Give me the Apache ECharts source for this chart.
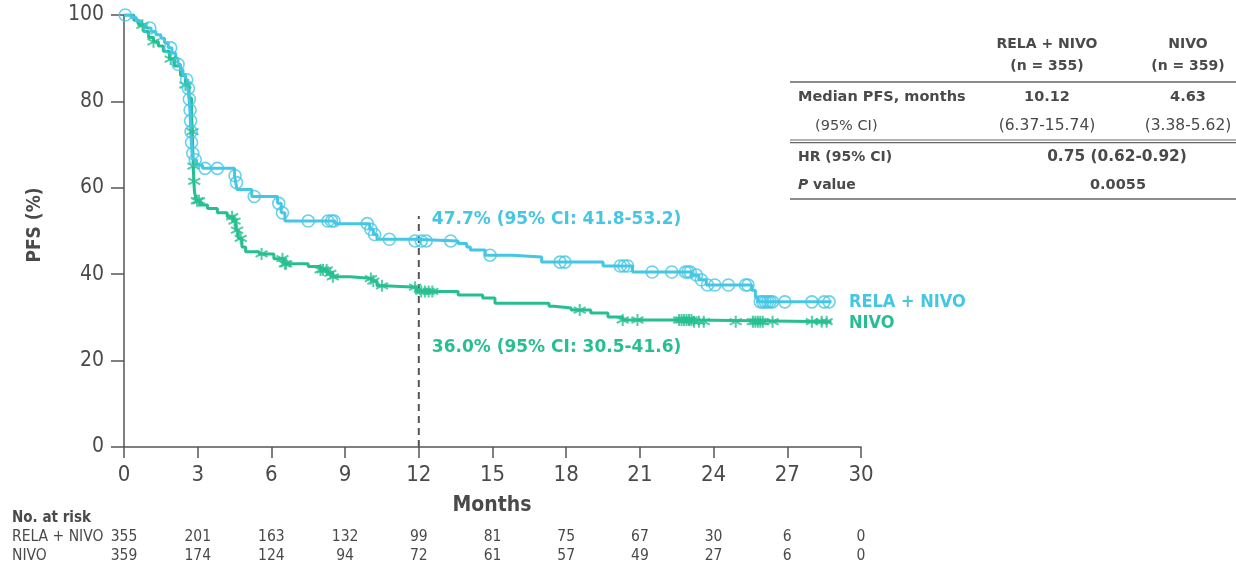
<!DOCTYPE html>
<html>
<head>
<meta charset="utf-8">
<script src="https://cdn.jsdelivr.net/npm/echarts@6/dist/echarts.min.js"></script>
<style>
  html, body { margin: 0; padding: 0; background: #fff; }
  #chart { width: 1236px; height: 566px; }
</style>
</head>
<body>
<div id="chart"></div>
<script>
// Kaplan-Meier PFS estimates (months, %)
const relaTime = [0, 0.3, 0.5, 0.7, 0.9, 1.1, 1.3, 1.5, 1.65, 1.8, 1.95, 2.1, 2.2, 2.3, 2.4, 2.5, 2.6, 2.65, 2.68, 2.7, 2.72, 2.74, 2.77, 2.82, 2.95, 3.2, 4.5, 4.55, 4.6, 5.2, 6.25, 6.4, 6.55, 8.6, 10.0, 10.15, 10.3, 11.8, 13.6, 13.95, 14.1, 14.7, 15.8, 17.0, 19.5, 20.7, 23.1, 23.4, 23.7, 25.55, 25.7, 25.8, 28.8];
const relaPfs  = [100, 99.4, 98.6, 97.8, 97.0, 96.2, 95.4, 94.6, 93.6, 92.4, 91.2, 90.0, 88.6, 87.4, 86.2, 85.0, 83.0, 80.5, 78, 75.5, 73, 70.5, 68, 66.5, 65.2, 64.5, 62.8, 61.2, 59.6, 58.0, 56.4, 54.2, 52.3, 51.7, 50.4, 49.2, 48.1, 47.7, 47.1, 46.3, 45.6, 44.4, 44.0, 42.8, 41.9, 40.5, 39.8, 38.7, 37.5, 36.3, 34.7, 33.6, 33.6];

const nivoTime = [0, 0.4, 0.6, 0.8, 1.0, 1.2, 1.4, 1.6, 1.85, 2.05, 2.3, 2.5, 2.65, 2.75, 2.78, 2.8, 2.82, 2.84, 2.87, 2.95, 3.1, 3.4, 3.8, 4.2, 4.45, 4.55, 4.65, 4.8, 4.95, 5.5, 6.1, 6.5, 7.5, 8.0, 8.3, 8.5, 9.2, 10.1, 10.3, 10.6, 11.9, 13.6, 14.6, 15.1, 17.3, 17.5, 18.2, 19.0, 19.7, 20.3, 23.2, 28.8];
const nivoPfs  = [100, 98.8, 97.6, 96.2, 94.8, 93.8, 92.8, 91.6, 89.8, 88.2, 86.0, 83.8, 80.8, 77, 73, 69, 65, 61.5, 59, 57.0, 56.0, 55.2, 54.2, 53.3, 52.3, 50.2, 48.3, 46.3, 45.2, 44.7, 43.6, 42.4, 41.8, 41.0, 40.2, 39.4, 39.0, 38.4, 37.3, 37.0, 36.0, 35.2, 34.5, 33.3, 32.6, 32.2, 31.7, 31.0, 30.1, 29.4, 29.0, 29.0];

// Censoring times (months)
const relaCensor = [0.05, 1.05, 1.9, 2.2, 2.55, 2.62, 2.66, 2.69, 2.71, 2.73, 2.75, 2.8, 2.9, 3.3, 3.8, 4.52, 4.58, 5.3, 6.3, 6.45, 7.5, 8.3, 8.45, 8.55, 9.9, 10.05, 10.2, 10.8, 11.85, 12.1, 12.3, 13.3, 14.9, 17.75, 17.95, 20.2, 20.35, 20.5, 21.5, 22.3, 22.85, 22.95, 23.05, 23.3, 23.5, 23.75, 24.05, 24.6, 25.3, 25.4, 25.9, 26.0, 26.1, 26.2, 26.3, 26.4, 26.9, 28.0, 28.5, 28.7];
const nivoCensor = [0.75, 1.2, 1.9, 2.5, 2.79, 2.83, 2.86, 2.97, 3.05, 4.4, 4.5, 4.6, 4.75, 5.6, 6.45, 6.55, 6.6, 8.0, 8.1, 8.25, 8.4, 8.5, 10.05, 10.15, 10.5, 11.85, 12.1, 12.25, 12.4, 12.55, 18.55, 20.3, 20.9, 22.6, 22.7, 22.8, 22.9, 23.0, 23.1, 23.2, 23.4, 23.6, 24.9, 25.6, 25.7, 25.8, 25.9, 26.0, 26.4, 28.0, 28.4, 28.6];

// Axis ticks and numbers at risk
const monthTicks = [0, 3, 6, 9, 12, 15, 18, 21, 24, 27, 30];
const riskRela = [355, 201, 163, 132, 99, 81, 75, 67, 30, 6, 0];
const riskNivo = [359, 174, 124, 94, 72, 61, 57, 49, 27, 6, 0];

// 12-month landmark
const landmarkMonth = 12;
const landmarkTop = 53.5;
const relaLandmark = '47.7% (95% CI: 41.8-53.2)';
const nivoLandmark = '36.0% (95% CI: 30.5-41.6)';

// Summary table
const tableHeads = [['RELA + NIVO', '(n = 355)'], ['NIVO', '(n = 359)']];
const medianPfs = ['10.12', '4.63'];
const medianCi = ['(6.37-15.74)', '(3.38-5.62)'];
const hrText = '0.75 (0.62-0.92)';
const pText = '0.0055';

const CYAN = '#45c6e4';
const GREEN = '#27bf91';
const GREY = '#555555';
const TEXT = '#4a4a4a';
const COND = '"DejaVu Sans Condensed", "DejaVu Sans", sans-serif';
const SANS = '"DejaVu Sans", sans-serif';

function pairs(ts, vs) { return ts.map((t, i) => [t, vs[i]]); }
function survAt(ts, vs, t) {
  let v = vs[0];
  for (let i = 0; i < ts.length; i++) { if (ts[i] <= t) v = vs[i]; else break; }
  return v;
}

const STAR = 'path://M5,0L5,10M0.67,2.5L9.33,7.5M0.67,7.5L9.33,2.5';

const chart = echarts.init(document.getElementById('chart'), null, { renderer: 'canvas' });

const option = {
  animation: false,
  backgroundColor: '#fff',
  grid: { left: 124, right: 375, top: 15, bottom: 119, containLabel: false },
  xAxis: {
    type: 'value', min: 0, max: 30, interval: 3,
    axisLine: { show: true, lineStyle: { color: GREY, width: 1.5 } },
    axisTick: { show: true, length: 11, lineStyle: { color: GREY, width: 1.5 } },
    axisLabel: { margin: 17, color: TEXT, fontFamily: COND, fontSize: 22 },
    splitLine: { show: false }
  },
  yAxis: {
    type: 'value', min: 0, max: 100, interval: 20,
    axisLine: { show: true, lineStyle: { color: GREY, width: 1.5 } },
    axisTick: { show: true, length: 13, lineStyle: { color: GREY, width: 1.5 } },
    axisLabel: { margin: 20, color: TEXT, fontFamily: COND, fontSize: 21 },
    splitLine: { show: false }
  },
  series: [
    {
      name: 'landmark', type: 'line', symbol: 'none', silent: true,
      data: [[landmarkMonth, 0], [landmarkMonth, landmarkTop]],
      lineStyle: { color: GREY, width: 2, type: [7, 5] }, z: 1
    },
    {
      name: 'NIVO', type: 'line', step: 'end', symbol: 'none',
      data: pairs(nivoTime, nivoPfs),
      lineStyle: { color: GREEN, width: 3 }, z: 2
    },
    {
      name: 'RELA + NIVO', type: 'line', step: 'end', symbol: 'none',
      data: pairs(relaTime, relaPfs),
      lineStyle: { color: CYAN, width: 3 }, z: 3
    },
    {
      name: 'NIVO censored', type: 'scatter', symbol: STAR, symbolSize: 12,
      data: nivoCensor.map(t => [t, survAt(nivoTime, nivoPfs, t)]),
      itemStyle: { color: 'rgba(0,0,0,0)', borderColor: GREEN, borderWidth: 2 }, z: 4
    },
    {
      name: 'RELA + NIVO censored', type: 'scatter', symbol: 'circle', symbolSize: 12,
      data: relaCensor.map(t => [t, survAt(relaTime, relaPfs, t)]),
      itemStyle: { color: 'rgba(0,0,0,0)', borderColor: CYAN, borderWidth: 1.6 }, z: 5
    }
  ]
};
chart.setOption(option);

// Text and table overlays, positioned from the axis scale where tied to data
const g = [];
function txt(text, x, y, opts) {
  g.push({
    type: 'text', x: x, y: y, silent: true, z: 10,
    style: Object.assign({
      text: text, fill: TEXT, font: '14px ' + SANS,
      textAlign: 'left', textVerticalAlign: 'middle'
    }, opts || {})
  });
}
function hline(x1, x2, y, w) {
  g.push({ type: 'line', silent: true, z: 10,
    shape: { x1: x1, y1: y, x2: x2, y2: y },
    style: { stroke: '#666', lineWidth: w || 1.5 } });
}

// Axis titles
txt('Months', 492, 506, { font: 'bold 21px ' + COND, textAlign: 'center' });
g.push({
  type: 'text', x: 35, y: 225, rotation: Math.PI / 2, silent: true, z: 10,
  style: { text: 'PFS (%)', fill: TEXT, font: 'bold 19px ' + COND,
    textAlign: 'center', textVerticalAlign: 'middle' }
});

// Landmark annotations
const lmX = chart.convertToPixel({ xAxisIndex: 0 }, landmarkMonth) + 13;
txt(relaLandmark, lmX, 220, { fill: CYAN, font: 'bold 17px ' + SANS });
txt(nivoLandmark, lmX, 348, { fill: GREEN, font: 'bold 17px ' + SANS });

// Series labels at curve ends
txt('RELA + NIVO', 849, 302, { fill: CYAN, font: 'bold 18px ' + COND });
txt('NIVO', 849, 323, { fill: GREEN, font: 'bold 18px ' + COND });

// Numbers at risk
txt('No. at risk', 12, 518, { font: 'bold 15px ' + COND });
txt('RELA + NIVO', 12, 537, { font: '15.5px ' + COND });
txt('NIVO', 12, 556, { font: '15.5px ' + COND });
monthTicks.forEach((m, i) => {
  const px = chart.convertToPixel({ xAxisIndex: 0 }, m);
  txt(String(riskRela[i]), px, 537, { font: '15.5px ' + COND, textAlign: 'center' });
  txt(String(riskNivo[i]), px, 556, { font: '15.5px ' + COND, textAlign: 'center' });
});

// Summary table
const colX = [1047, 1188];
tableHeads.forEach((h, i) => {
  txt(h[0], colX[i], 44, { font: 'bold 14px ' + SANS, textAlign: 'center' });
  txt(h[1], colX[i], 66, { font: 'bold 14px ' + SANS, textAlign: 'center' });
});
hline(790, 1236, 82);
txt('Median PFS, months', 798, 97, { font: 'bold 14.5px ' + SANS });
medianPfs.forEach((v, i) => txt(v, colX[i], 97, { font: 'bold 14.5px ' + SANS, textAlign: 'center' }));
txt('(95% CI)', 815, 126, { font: '14.5px ' + SANS });
medianCi.forEach((v, i) => txt(v, colX[i], 126, { font: '15.5px ' + SANS, textAlign: 'center' }));
hline(790, 1236, 140, 1.2);
hline(790, 1236, 142.6, 1.2);
txt('HR (95% CI)', 798, 157, { font: 'bold 14px ' + SANS });
txt(hrText, 1117, 157, { font: 'bold 15.4px ' + SANS, textAlign: 'center' });
txt('P', 798, 185, { font: 'italic bold 14px ' + SANS });
txt('value', 813, 185, { font: 'bold 14px ' + SANS });
txt(pText, 1118, 185, { font: 'bold 14.5px ' + SANS, textAlign: 'center' });
hline(790, 1236, 199);

chart.setOption({ graphic: g });
</script>
</body>
</html>
